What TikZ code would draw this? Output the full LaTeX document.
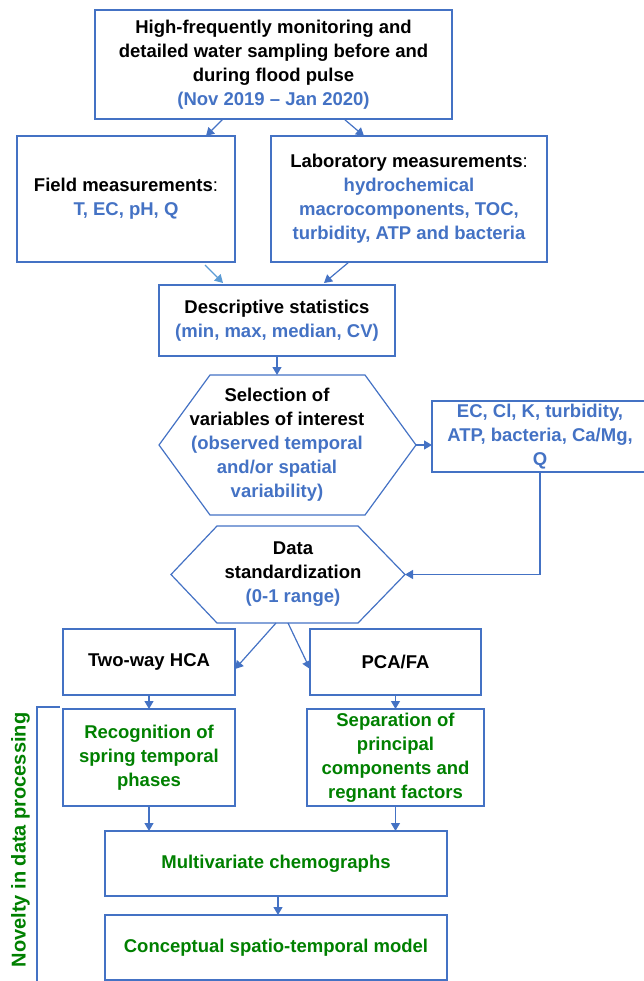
\documentclass[tikz,border=0pt]{standalone}
\usepackage{fontspec}
\setmainfont{Liberation Sans}
\usepackage{tikz}
\usepackage{xcolor}
\usetikzlibrary{positioning}
\usetikzlibrary{arrows.meta}

\definecolor{lineblue}{HTML}{4472C4}
\definecolor{lightblue}{HTML}{5B9BD5}
\definecolor{darkgreen}{HTML}{008000}

\begin{document}
\begin{tikzpicture}
[
box-a/.style={rectangle, draw=lineblue, line width=1.2pt, inner sep=0pt, outer sep=0pt, align=center, font=\fontsize{18.5}{24}\selectfont\bfseries},
box-b/.style={box-a, text=darkgreen},
hex-a/.style={rectangle, inner sep=0pt, outer sep=0pt, align=center, font=\fontsize{18.5}{24}\selectfont\bfseries},
edge-a/.style={lineblue, line width=1.2pt},
arr-a/.style={lineblue, line width=1.2pt, -{Triangle[length=8pt,width=9pt]}},
arr-b/.style={lightblue, line width=1.2pt, -{Triangle[length=8pt,width=9pt]}}
]

\useasboundingbox (0pt,0pt) rectangle (644pt,-981pt);

\node (monitor) [box-a, minimum width=357pt, minimum height=109pt] at (273.5pt,-64.5pt) {High-frequently monitoring and\\ detailed water sampling before and\\ during flood pulse\\ \textcolor{lineblue}{(Nov 2019 -- Jan 2020)}};
\node (field)   [box-a, minimum width=218pt, minimum height=126pt, below left  = 17pt and 38.5pt of monitor.south]     {Field measurements{\mdseries :}\\ \textcolor{lineblue}{T, EC, pH, Q}};
\node (lab)     [box-a, minimum width=276pt, minimum height=126pt, right       = 36pt of field]                        {Laboratory measurements{\mdseries :}\\ \textcolor{lineblue}{hydrochemical}\\ \textcolor{lineblue}{macrocomponents, TOC,}\\ \textcolor{lineblue}{turbidity, ATP and bacteria}};
\node (desc)    [box-a, minimum width=236pt, minimum height=71pt,  below right = 23pt and -76pt of field.south east]   {Descriptive statistics\\ \textcolor{lineblue}{(min, max, median, CV)}};
\node (sel)     [hex-a, minimum height=140pt,                      below       = 19pt of desc]                         {Selection of\\ variables of interest\\ \textcolor{lineblue}{(observed temporal}\\ \textcolor{lineblue}{and/or spatial}\\ \textcolor{lineblue}{variability)}};
\draw [edge-a, shift={(sel.center)}] (-118pt,0pt) -- (-67pt,70pt) -- (88pt,70pt) -- (139pt,0pt) coordinate (sel-east) -- (88pt,-70pt) -- (-67pt,-70pt) -- cycle;
\node (ec)      [box-a, minimum width=216pt, minimum height=71pt,  above right = -27pt and 16pt of sel-east, text=lineblue] {EC, Cl, K, turbidity,\\ ATP, bacteria, Ca/Mg,\\ Q};
\node (std)     [hex-a, minimum height=97pt,                       below       = 11pt of sel, xshift=16pt]              {Data\\ standardization\\ \textcolor{lineblue}{(0-1 range)}};
\draw [edge-a, shift={(std.center)}] (-122pt,0pt) -- (-76pt,48.5pt) -- (65pt,48.5pt) -- (112pt,0pt) coordinate (std-east) -- (65pt,-48.5pt) -- (-76pt,-48.5pt) -- cycle;
\node (hca)     [box-a, minimum width=172pt, minimum height=66pt,  below left  = 6pt and 58pt of std.south]            {Two-way HCA};
\node (pca)     [box-a, minimum width=171pt, minimum height=66pt,  right       = 75pt of hca]                          {PCA/FA};
\node (recog)   [box-b, minimum width=172pt, minimum height=97pt,  below       = 14pt of hca]                          {Recognition of\\ spring temporal\\ phases};
\node (sep)     [box-b, minimum width=177pt, minimum height=97pt,  below       = 14pt of pca]                          {Separation of\\ principal\\ components and\\ regnant factors};
\node (multi)   [box-b, minimum width=342pt, minimum height=65pt,  below right = 25pt and 42pt of recog.south west]   {Multivariate chemographs};
\node (concept) [box-b, minimum width=342pt, minimum height=65pt,  below       = 19pt of multi]                        {Conceptual spatio-temporal model};

% novelty bracket
\coordinate (nov-top) at ([xshift=-26pt,yshift=2pt]recog.north west);
\draw [edge-a] ([xshift=23pt]nov-top) -- (nov-top) -- ([yshift=-280pt]nov-top);
\node (novelty) [rotate=90, anchor=south, inner sep=0pt, text=darkgreen, font=\fontsize{20}{24}\selectfont\bfseries] at ([xshift=-7pt,yshift=-133pt]nov-top) {Novelty in data processing};

\draw [arr-a] ([xshift=-50.5pt]monitor.south) -- ([xshift=80pt]field.north);
\draw [arr-a] ([xshift=70.5pt]monitor.south)  -- ([xshift=-45pt]lab.north);
\draw [arr-b] ([xshift=79pt,yshift=-3pt]field.south) -- ([xshift=-54pt,yshift=2pt]desc.north);
\draw [arr-a] ([xshift=-60pt]lab.south)       -- ([xshift=47pt,yshift=2pt]desc.north);
\draw [arr-a] (desc.south) -- (sel.north);
\draw [arr-a] (sel-east) -- (sel-east -| ec.west);
\draw [arr-a] (ec.south) |- (std-east);
\draw [arr-a] ([xshift=-17pt]std.south) -- ([yshift=-7pt]hca.east);
\draw [arr-a] ([xshift=-5pt]std.south)  -- ([yshift=-7pt]pca.west);
\draw [arr-a] (hca.south) -- (recog.north);
\draw [arr-a] (pca.south) -- (sep.north);
\draw [arr-a] (recog.south) -- (recog.south |- multi.north);
\draw [arr-a] (sep.south) -- (sep.south |- multi.north);
\draw [arr-a] ([xshift=2pt]multi.south) -- ([xshift=2pt]concept.north);

\end{tikzpicture}
\end{document}
